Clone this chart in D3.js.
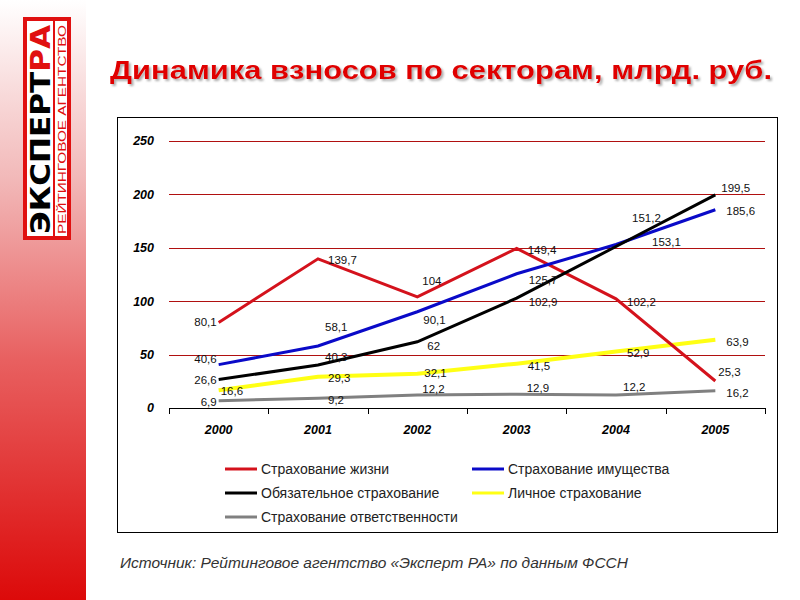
<!DOCTYPE html>
<html>
<head>
<meta charset="utf-8">
<script src="https://cdn.jsdelivr.net/npm/d3@7"></script>
<style>
  html, body { margin: 0; padding: 0; background: #fff; }
  svg { display: block; font-family: "Liberation Sans", Arial, sans-serif; }
</style>
</head>
<body>
<svg id="chart" width="800" height="600"></svg>
<script>
// ---- data ----
const years = ["2000", "2001", "2002", "2003", "2004", "2005"];
const seriesNames = ["Страхование жизни", "Страхование имущества", "Обязательное страхование", "Личное страхование", "Страхование ответственности"];
const lifeValues = [80.1, 139.7, 104, 149.4, 102.2, 25.3];
const propertyValues = [40.6, 58.1, 90.1, 125.7, 153.1, 185.6];
const mandatoryValues = [26.6, 40.3, 62, 102.9, 151.2, 199.5];
const personalValues = [16.6, 29.3, 32.1, 41.5, 52.9, 63.9];
const liabilityValues = [6.9, 9.2, 12.2, 12.9, 12.2, 16.2];
const yTicks = [0, 50, 100, 150, 200, 250];
const titleText = "Динамика взносов по секторам, млрд. руб.";
const sourceText = "Источник: Рейтинговое агентство «Эксперт РА» по данным ФССН";

// ---- styles ----
const colors = ["#d4121c", "#0a0ac8", "#000000", "#ffff14", "#808080"];
const widths = [3, 3, 3, 4, 3];
// label placement per series & point: [dx, dy, anchor]
const labelPos = [
  [[-2, 0, "end"], [10, 1, "start"], [5, -16, "start"], [11, 2, "start"], [11, 3, "start"], [3, -9, "start"]],
  [[-2, -6, "end"], [7, -19, "start"], [6, 8, "start"], [12, 6, "start"], [36, -3, "start"], [11, 1, "start"]],
  [[-2, 0, "end"], [7, -8, "start"], [10, 4, "start"], [12, 4, "start"], [16, -29, "start"], [6, -7, "start"]],
  [[2, 1, "start"], [10, 1, "start"], [7, -1, "start"], [11, 2, "start"], [11, 1, "start"], [11, 2, "start"]],
  [[-2, 1, "end"], [10, 2, "start"], [5, -6, "start"], [10, -6, "start"], [7, -8, "start"], [11, 2, "start"]]
];

const allSeries = [lifeValues, propertyValues, mandatoryValues, personalValues, liabilityValues];
const fmt = v => String(v).replace(".", ",");

const svg = d3.select("#chart");
const defs = svg.append("defs");

// left red gradient strip
const grad = defs.append("linearGradient").attr("id", "strip").attr("x1", 0).attr("y1", 0).attr("x2", 0).attr("y2", 1);
grad.append("stop").attr("offset", "0%").attr("stop-color", "#ffffff");
grad.append("stop").attr("offset", "30%").attr("stop-color", "#f2b8b8");
grad.append("stop").attr("offset", "60%").attr("stop-color", "#e86060");
grad.append("stop").attr("offset", "100%").attr("stop-color", "#dc0a0a");
svg.append("rect").attr("x", 0).attr("y", 0).attr("width", 86).attr("height", 600).attr("fill", "url(#strip)");

// title shadow filter
const f = defs.append("filter").attr("id", "shadow").attr("x", "-5%").attr("y", "-30%").attr("width", "110%").attr("height", "160%");
f.append("feDropShadow").attr("dx", 2).attr("dy", 2).attr("stdDeviation", 0.8)
  .attr("flood-color", "#777").attr("flood-opacity", 0.6);

// logo
const logo = svg.append("g");
logo.append("rect").attr("x", 23).attr("y", 17).attr("width", 48).attr("height", 223).attr("fill", "#e01010");
logo.append("rect").attr("x", 27).attr("y", 21).attr("width", 40).attr("height", 215).attr("fill", "#ffffff");
logo.append("rect").attr("x", 53).attr("y", 21).attr("width", 2).attr("height", 215).attr("fill", "#e01010");
const big = logo.append("text")
  .attr("transform", "translate(50,234) rotate(-90)")
  .attr("font-family", "'DejaVu Sans', sans-serif").attr("font-weight", "bold")
  .attr("font-size", 27).attr("textLength", 209).attr("lengthAdjust", "spacingAndGlyphs");
big.append("tspan").attr("fill", "#000").text("ЭКСПЕРТ");
big.append("tspan").attr("fill", "#e01010").text("РА");
logo.append("text")
  .attr("transform", "translate(66,234) rotate(-90)")
  .attr("fill", "#e01010").attr("font-size", 11)
  .attr("textLength", 209).attr("lengthAdjust", "spacingAndGlyphs")
  .text("РЕЙТИНГОВОЕ АГЕНТСТВО");

// title
svg.append("text").attr("x", 110).attr("y", 79)
  .attr("font-family", "'Liberation Sans', Arial, sans-serif").attr("font-weight", "bold")
  .attr("font-size", 26).attr("fill", "#e00000")
  .attr("filter", "url(#shadow)")
  .attr("textLength", 662).attr("lengthAdjust", "spacingAndGlyphs")
  .text(titleText);

// chart box
svg.append("rect").attr("x", 117.5).attr("y", 117.5).attr("width", 660).attr("height", 415)
  .attr("fill", "#fff").attr("stroke", "#000").attr("stroke-width", 1);

// scales
const x = d3.scaleBand().domain(years).range([169, 765]).paddingInner(0).paddingOuter(0);
const y = d3.scaleLinear().domain([0, 250]).range([408, 141]);
const cx = d => x(d) + x.bandwidth() / 2;

// gridlines
svg.append("g").selectAll("line").data(yTicks.filter(t => t > 0)).join("line")
  .attr("x1", 169).attr("x2", 765)
  .attr("y1", d => Math.round(y(d)) + 0.5).attr("y2", d => Math.round(y(d)) + 0.5)
  .attr("stroke", "#b01010").attr("stroke-width", 1);

// y labels
svg.append("g").selectAll("text").data(yTicks).join("text")
  .attr("x", 154).attr("y", d => y(d)).attr("dy", "0.35em")
  .attr("text-anchor", "end").attr("font-weight", "bold").attr("font-style", "italic")
  .attr("font-size", 12.5).attr("fill", "#000").text(d => d);

// x axis
const xAxis = d3.axisBottom(x).tickSize(0).tickFormat("");
const xg = svg.append("g").attr("transform", "translate(0,408.5)").call(xAxis);
xg.select(".domain").attr("stroke", "#000").attr("stroke-width", 1).attr("d", "M169,0H765");
const boundaries = years.map(d => x(d)).concat([x(years[years.length - 1]) + x.bandwidth()]);
svg.append("g").selectAll("line").data(boundaries).join("line")
  .attr("x1", d => Math.round(d) + 0.5).attr("x2", d => Math.round(d) + 0.5)
  .attr("y1", 408).attr("y2", 414).attr("stroke", "#000");
svg.append("g").selectAll("text").data(years).join("text")
  .attr("x", d => cx(d)).attr("y", 434).attr("text-anchor", "middle")
  .attr("font-weight", "bold").attr("font-style", "italic").attr("font-size", 12.5)
  .text(d => d);

// lines
const line = d3.line().x((d, i) => cx(years[i])).y(d => y(d));
const drawOrder = [4, 3, 0, 1, 2];
drawOrder.forEach(si => {
  svg.append("path").datum(allSeries[si])
    .attr("d", line).attr("fill", "none")
    .attr("stroke", colors[si]).attr("stroke-width", widths[si])
    .attr("stroke-linejoin", "miter");
});

// data labels
allSeries.forEach((vals, si) => {
  svg.append("g").selectAll("text").data(vals).join("text")
    .attr("x", (d, i) => cx(years[i]) + labelPos[si][i][0])
    .attr("y", (d, i) => y(d) + labelPos[si][i][1])
    .attr("dy", "0.35em")
    .attr("text-anchor", (d, i) => labelPos[si][i][2])
    .attr("font-size", 11.5).attr("fill", "#111")
    .text(d => fmt(d));
});

// legend
const legendPos = [[225, 469], [472, 469], [225, 493], [472, 493], [225, 517]];
const lg = svg.append("g").selectAll("g").data(seriesNames).join("g")
  .attr("transform", (d, i) => `translate(${legendPos[i][0]},${legendPos[i][1]})`);
lg.append("line").attr("x1", 0).attr("x2", 32).attr("y1", 0).attr("y2", 0)
  .attr("stroke", (d, i) => colors[i]).attr("stroke-width", 3);
lg.append("text").attr("x", 36).attr("y", 0).attr("dy", "0.35em")
  .attr("font-size", 14).attr("fill", "#222").text(d => d);

// source
svg.append("text").attr("x", 120).attr("y", 568)
  .attr("font-style", "italic").attr("font-size", 14.5).attr("fill", "#333")
  .attr("textLength", 508).attr("lengthAdjust", "spacingAndGlyphs")
  .text(sourceText);
</script>
</body>
</html>
